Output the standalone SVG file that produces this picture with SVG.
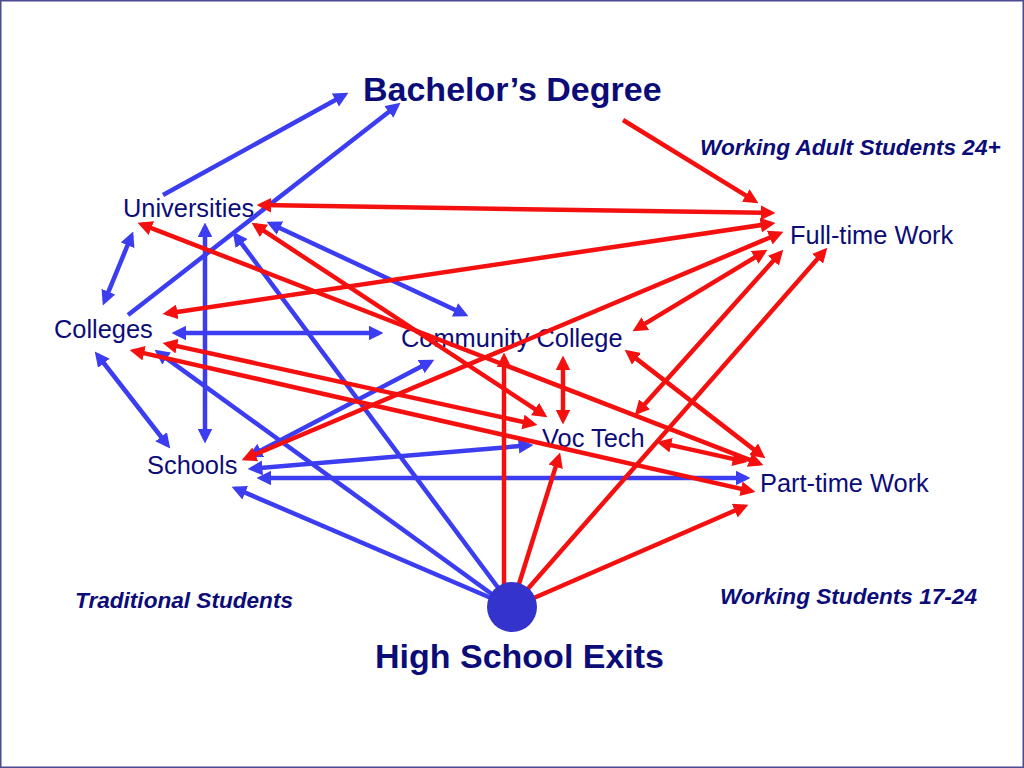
<svg xmlns="http://www.w3.org/2000/svg" width="1024" height="768" viewBox="0 0 1024 768">
<style>
.lbl{font-family:"Liberation Sans",Arial,sans-serif;font-size:25.4px;fill:#0c0c78}
.big{font-family:"Liberation Sans",Arial,sans-serif;font-size:34px;font-weight:bold;fill:#0c0c78}
.grp{font-family:"Liberation Sans",Arial,sans-serif;font-size:22.6px;font-weight:bold;font-style:italic;fill:#0c0c78}
.b{stroke:#3c3cf0;stroke-width:4.5;fill:none}
.r{stroke:#f51010;stroke-width:4.5;fill:none}
.b.s{marker-end:url(#ab)}
.b.d{marker-start:url(#ab);marker-end:url(#ab)}
.r.s{marker-end:url(#ar)}
.r.d{marker-start:url(#ar);marker-end:url(#ar)}
</style>
<defs>
<marker id="ab" viewBox="0 0 10 10" refX="7" refY="5" markerWidth="3.3" markerHeight="3.3" orient="auto-start-reverse"><path d="M0,0 L10,5 L0,10 z" fill="#3c3cf0"/></marker>
<marker id="ar" viewBox="0 0 10 10" refX="7" refY="5" markerWidth="3.3" markerHeight="3.3" orient="auto-start-reverse"><path d="M0,0 L10,5 L0,10 z" fill="#f51010"/></marker>
</defs>
<rect x="0" y="0" width="1024" height="768" fill="#ffffff"/>
<rect x="0.75" y="0.75" width="1022.5" height="766.5" fill="none" stroke="#4b4b95" stroke-width="1.5"/>

<g id="bachelors"><text class="big" x="363" y="101">Bachelor’s Degree</text></g>
<g id="working-adult"><text class="grp" x="700" y="155">Working Adult Students 24+</text></g>
<g id="universities"><text class="lbl" x="123" y="217">Universities</text></g>
<g id="fulltime"><text class="lbl" x="790" y="244">Full-time Work</text></g>
<g id="colleges"><text class="lbl" x="54" y="338">Colleges</text></g>
<g id="community"><text class="lbl" x="401" y="347">Community College</text></g>
<g id="voctech"><text class="lbl" x="542" y="447">Voc Tech</text></g>
<g id="schools"><text class="lbl" x="147" y="474">Schools</text></g>
<g id="parttime"><text class="lbl" x="760" y="492">Part-time Work</text></g>
<g id="traditional"><text class="grp" x="75" y="608">Traditional Students</text></g>
<g id="working-students"><text class="grp" x="720" y="604">Working Students 17-24</text></g>

<g id="connectors">
<line class="b s" x1="163" y1="195" x2="344.5" y2="95"/>
<line class="b s" x1="128" y1="315" x2="397" y2="105.5"/>
<line class="b d" x1="104.5" y1="301.3" x2="131.5" y2="235.7"/>
<line class="b d" x1="205" y1="227" x2="205" y2="439"/>
<line class="b d" x1="176" y1="333" x2="379" y2="333"/>
<line class="b d" x1="97.5" y1="355" x2="167.5" y2="445"/>
<line class="b d" x1="270.6" y1="223.7" x2="464.4" y2="314.3"/>
<line class="b s" x1="505" y1="597" x2="235.4" y2="235.2"/>
<line class="b s" x1="500" y1="600" x2="158.2" y2="352.4"/>
<line class="b d" x1="251.6" y1="455.2" x2="430.4" y2="361.8"/>
<line class="b d" x1="252" y1="468.7" x2="529" y2="445.3"/>
<line class="b d" x1="261" y1="478" x2="746" y2="478"/>
<line class="b s" x1="505" y1="604" x2="235.7" y2="488.6"/>

<line class="r s" x1="623" y1="120" x2="754.6" y2="200.9"/>
<line class="r d" x1="261" y1="205.1" x2="771" y2="212.9"/>
<line class="r d" x1="167" y1="313.4" x2="771" y2="223.6"/>
<line class="r d" x1="245.7" y1="458.4" x2="779.3" y2="233.6"/>
<line class="r d" x1="636.4" y1="328.9" x2="763.6" y2="252.1"/>
<line class="r d" x1="637.7" y1="412" x2="780.3" y2="253"/>
<line class="r s" x1="518" y1="600" x2="824.4" y2="251"/>
<line class="r d" x1="141.7" y1="224.4" x2="759.3" y2="463.6"/>
<line class="r d" x1="255.3" y1="225.2" x2="543.7" y2="414.8"/>
<line class="r d" x1="166.9" y1="343.9" x2="533.1" y2="424.1"/>
<line class="r d" x1="133.9" y1="350.9" x2="751.1" y2="491.1"/>
<line class="r d" x1="628.2" y1="352.4" x2="761.8" y2="455.6"/>
<line class="r d" x1="660.9" y1="442.9" x2="743.1" y2="461.1"/>
<line class="r s" x1="520" y1="604" x2="744.3" y2="506.5"/>
<line class="r s" x1="504" y1="600" x2="504" y2="357"/>
<line class="r d" x1="563" y1="360" x2="563" y2="420"/>
<line class="r s" x1="514" y1="600" x2="558.8" y2="456.8"/>
</g>

<g id="high-school-exits">
<circle cx="512" cy="607" r="25" fill="#3434cc"/>
<text class="big" x="375" y="668">High School Exits</text>
</g>
</svg>
